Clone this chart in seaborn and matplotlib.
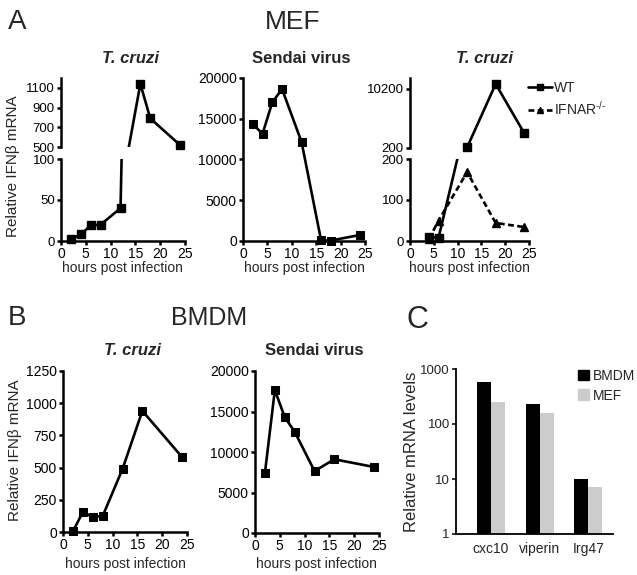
#!/usr/bin/env python3
"""
IFN-beta induction time courses (MEF / BMDM) and ISG levels, GraphPad-like layout
"""

import matplotlib
matplotlib.use("Agg")
import matplotlib.pyplot as plt
import seaborn as sns
import pandas as pd
from matplotlib.lines import Line2D
from matplotlib.patches import Patch
from matplotlib.ticker import NullLocator

# ---- data ----
# A, MEF, T. cruzi (broken axis)
mef_tc_hours = [2, 4, 6, 8, 12, 16, 18, 24]
mef_tc_ifnb = [2, 8, 19, 20, 40, 1140, 790, 520]

# A, MEF, Sendai virus
mef_sv_hours = [2, 4, 6, 8, 12, 16, 18, 24]
mef_sv_ifnb = [14350, 13150, 17000, 18650, 12150, 80, 60, 740]

# A, MEF, T. cruzi WT vs IFNAR-/- (broken axis)
ko_hours = [4, 6, 12, 18, 24]
wt_ifnb = [10, 8, 300, 11050, 2700]
ifnar_ifnb = [5, 50, 168, 44, 34]

# B, BMDM
bmdm_hours = [2, 4, 6, 8, 12, 16, 24]
bmdm_tc_ifnb = [5, 155, 116, 124, 489, 940, 582]
bmdm_sv_ifnb = [7400, 17650, 14300, 12500, 7650, 9100, 8150]

# C, ISG levels
genes = ['cxc10', 'viperin', 'Irg47']
bmdm_levels = [575, 230, 10]
mef_levels = [250, 158, 7.2]

W, H = 637, 575
SPINE_W = 1.8
LINE_W = 1.9
MS = 5.5

sns.set_style("ticks")
plt.rcParams['font.family'] = ['Liberation Sans', 'DejaVu Sans']
plt.rcParams['mathtext.default'] = 'regular'
plt.rcParams['axes.unicode_minus'] = False


def px_axes(fig, l, t, r, b):
    return fig.add_axes([l / W, 1 - b / H, (r - l) / W, (b - t) / H])


def px_text(fig, x, y, s, **kw):
    return fig.text(x / W, 1 - y / H, s, **kw)


def style_axes(ax, show_x=True, ysize=10):
    sns.despine(ax=ax, top=True, right=True, bottom=not show_x)
    for side in ['left', 'bottom']:
        ax.spines[side].set_linewidth(SPINE_W)
        ax.spines[side].set_color('black')
    ax.tick_params(direction='out', length=3, width=SPINE_W, labelsize=10,
                   pad=1.5, color='black', labelcolor='black')
    ax.tick_params(axis='y', labelsize=ysize)
    ax.set_xlabel('')
    ax.set_ylabel('')
    if show_x:
        ax.set_xlim(0, 25)
        ax.set_xticks([0, 5, 10, 15, 20, 25])
    else:
        ax.tick_params(axis='x', bottom=False, labelbottom=False)


def time_course(ax, x, y, marker='s', dashed=False):
    ls = (0, (2.2, 1.3)) if dashed else '-'
    sns.lineplot(x=x, y=y, ax=ax, color='black', lw=LINE_W, linestyle=ls,
                 marker=marker, markersize=MS, mec='black', mfc='black',
                 clip_on=False, legend=False)


def broken_series(ax, x, y, lo, hi, marker='s', dashed=False, inside_only=False):
    """line clipped to this segment, markers only for points inside it"""
    ls = (0, (2.2, 1.3)) if dashed else '-'
    xs = [a for a, b in zip(x, y) if lo <= b <= hi]
    ys = [b for b in y if lo <= b <= hi]
    if inside_only:
        sns.lineplot(x=xs, y=ys, ax=ax, color='black', lw=LINE_W, linestyle=ls,
                     legend=False)
    else:
        sns.lineplot(x=x, y=y, ax=ax, color='black', lw=LINE_W, linestyle=ls,
                     legend=False)
    ax.plot(xs, ys, linestyle='', marker=marker, ms=MS, color='black', clip_on=False)


fig = plt.figure(figsize=(W / 100, H / 100), dpi=100)

# ---------------- A: MEF ----------------
# T. cruzi, broken y axis
a1_lo = px_axes(fig, 61, 159, 185, 241)
a1_hi = px_axes(fig, 61, 78, 185, 147)
broken_series(a1_lo, mef_tc_hours, mef_tc_ifnb, 0, 100)
broken_series(a1_hi, mef_tc_hours, mef_tc_ifnb, 500, 1200)
a1_lo.set_ylim(0, 100)
a1_lo.set_yticks([0, 50, 100])
a1_hi.set_ylim(500, 1200)
a1_hi.set_yticks([500, 700, 900, 1100])
style_axes(a1_lo, ysize=9.5)
style_axes(a1_hi, show_x=False, ysize=9.5)
a1_hi.set_xlim(0, 25)

# Sendai virus
a2 = px_axes(fig, 243, 78, 365, 241)
time_course(a2, mef_sv_hours, mef_sv_ifnb)
a2.set_ylim(0, 20000)
a2.set_yticks([0, 5000, 10000, 15000, 20000])
style_axes(a2)

# T. cruzi WT vs IFNAR-/-, broken y axis
a3_lo = px_axes(fig, 410, 159, 529, 241)
a3_hi = px_axes(fig, 410, 78, 529, 148)
broken_series(a3_lo, ko_hours, wt_ifnb, 0, 200)
broken_series(a3_lo, ko_hours, ifnar_ifnb, 0, 200, marker='^', dashed=True)
broken_series(a3_hi, ko_hours, wt_ifnb, 200, 12060, inside_only=True)
a3_lo.set_ylim(0, 200)
a3_lo.set_yticks([0, 100, 200])
a3_hi.set_ylim(200, 12060)
a3_hi.set_yticks([200, 10200])
style_axes(a3_lo, ysize=9.5)
style_axes(a3_hi, show_x=False, ysize=9.5)
a3_hi.set_xlim(0, 25)

handles = [
    Line2D([0], [0], color='black', lw=LINE_W, marker='s', ms=4.5),
    Line2D([0], [0], color='black', lw=LINE_W, linestyle=(0, (2.2, 1.3)),
           marker='^', ms=4.5),
]
fig.legend(handles, ['WT', 'IFNAR$^{\u2010/\u2010}$'], loc='upper left',
           bbox_to_anchor=(528 / W, 1 - 81 / H), frameon=False, fontsize=10,
           handlelength=1.7, handletextpad=0.15, borderpad=0, labelspacing=0.35,
           borderaxespad=0)

# ---------------- B: BMDM ----------------
b1 = px_axes(fig, 63, 371, 187, 532)
time_course(b1, bmdm_hours, bmdm_tc_ifnb)
b1.set_ylim(0, 1250)
b1.set_yticks([0, 250, 500, 750, 1000, 1250])
style_axes(b1)

b2 = px_axes(fig, 255, 371, 379, 533)
time_course(b2, bmdm_hours, bmdm_sv_ifnb)
b2.set_ylim(0, 20000)
b2.set_yticks([0, 5000, 10000, 15000, 20000])
style_axes(b2)

# ---------------- C: ISG levels ----------------
df_c = pd.DataFrame({
    'gene': genes * 2,
    'level': bmdm_levels + mef_levels,
    'cell': ['BMDM'] * len(genes) + ['MEF'] * len(genes),
})
c = px_axes(fig, 456, 369, 613, 534)
sns.barplot(data=df_c, x='gene', y='level', hue='cell',
            palette={'BMDM': 'black', 'MEF': '#cccccc'}, saturation=1,
            width=0.58, gap=0, linewidth=0, ax=c, legend=False)
c.set_yscale('log')
c.set_ylim(1, 1000)
c.set_xlim(-0.72, 2.51)
sns.despine(ax=c)
for side in ['left', 'bottom']:
    c.spines[side].set_linewidth(1.3)
    c.spines[side].set_color('black')
c.set_yticks([1, 10, 100, 1000])
c.set_yticklabels(['1', '10', '100', '1000'])
c.yaxis.set_minor_locator(NullLocator())
c.tick_params(axis='y', direction='out', length=3, width=1.3, labelsize=9.5, pad=1.5)
c.tick_params(axis='x', length=0, labelsize=10, pad=6)
c.set_xlabel('')
c.set_ylabel('')
c.legend([Patch(color='black'), Patch(color='#cccccc')], ['BMDM', 'MEF'],
         loc='upper left', bbox_to_anchor=(578 / W, 1 - 369 / H),
         bbox_transform=fig.transFigure, frameon=False, fontsize=10,
         handlelength=0.8, handleheight=0.8, handletextpad=0.25,
         labelspacing=0.4, borderpad=0, borderaxespad=0)

# ---------------- titles and labels ----------------
title_kw = dict(fontsize=12, fontweight='bold', ha='center', va='baseline')
px_text(fig, 130, 63, 'T. cruzi', style='italic', **title_kw)
px_text(fig, 301, 63, 'Sendai virus', **title_kw)
px_text(fig, 485, 63, 'T. cruzi', style='italic', **title_kw)
px_text(fig, 133, 355, 'T. cruzi', style='italic', **title_kw)
px_text(fig, 314, 355, 'Sendai virus', **title_kw)

xl_kw = dict(fontsize=10, ha='center', va='center')
for x_px, y_px in [(122, 268), (304, 268), (469, 268), (125, 564), (316, 564)]:
    px_text(fig, x_px, y_px, 'hours post infection', **xl_kw)

yl_kw = dict(fontsize=11, rotation=90, ha='center', va='center')
px_text(fig, 13, 166, 'Relative IFNβ mRNA', **yl_kw)
px_text(fig, 15, 450, 'Relative IFNβ mRNA', **yl_kw)
px_text(fig, 412, 452, 'Relative mRNA levels', fontsize=12, rotation=90,
        ha='center', va='center')

px_text(fig, 8, 22, 'A', fontsize=20, ha='left', va='center')
px_text(fig, 293, 22, 'MEF', fontsize=19, ha='center', va='center')
px_text(fig, 8, 318, 'B', fontsize=20, ha='left', va='center')
px_text(fig, 209, 318, 'BMDM', fontsize=18, ha='center', va='center')
px_text(fig, 407, 320, 'C', fontsize=22, ha='left', va='center')

plt.savefig('out.png', dpi=100)
plt.close()
